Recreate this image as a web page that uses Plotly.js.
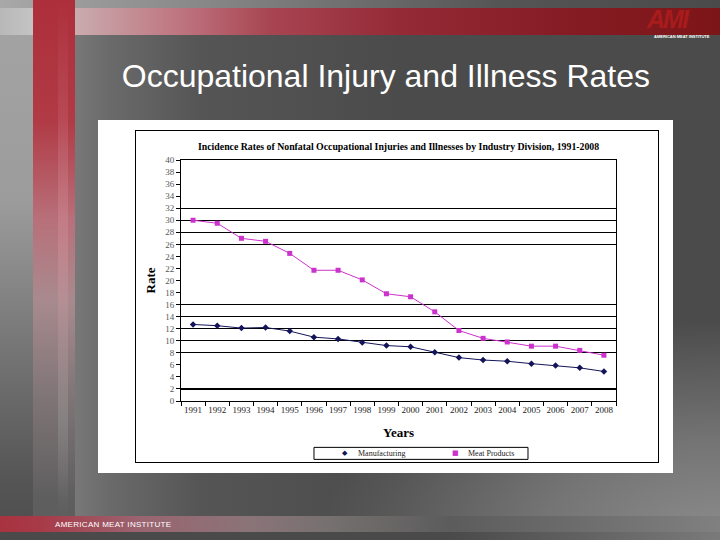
<!DOCTYPE html>
<html>
<head>
<meta charset="utf-8">
<script src="https://cdn.plot.ly/plotly-3.0.1.min.js"></script>
<style>
  html, body { margin:0; padding:0; width:720px; height:540px; overflow:hidden; }
  #slide { position:relative; width:720px; height:540px; overflow:hidden;
    background: linear-gradient(90deg, #9a9a9a 0px, #8a8a8a 30px, #6a6a6a 110px, #555 200px, #4b4b4b 400px, #4b4b4b 720px); }
  .abs { position:absolute; }
  #leftshade { left:0; top:0; width:33px; height:540px; background: linear-gradient(180deg, #a4a4a4 0px, #9c9c9c 200px, #7a7a7a 330px, #555 480px, #4e4e4e 540px); }
  #topgrad { left:0; top:0; width:720px; height:8px; background: linear-gradient(90deg,#a8a8a8 0px,#888 200px,#555 500px,#4a4a4a 720px); }
  #topband { left:0; top:8px; width:720px; height:27px;
    background: linear-gradient(90deg, #b8b8b8 0px, #c4c4c4 33px, #c9a9ac 80px, #c07a84 170px, #a84552 270px, #942a36 400px, #861c24 560px, #7c1518 720px); }
  #leftbar { left:33px; top:0; width:42px; height:516px;
    background: linear-gradient(180deg, #ad2f3b 0px, #b03a45 120px, #b8707a 220px, #a88a8e 300px, #7e7476 400px, #5e5e5e 500px); }
  #leftbar2 { left:58px; top:0; width:10px; height:516px;
    background: linear-gradient(180deg, rgba(200,80,90,0.0) 0px, rgba(220,150,160,0.35) 250px, rgba(160,160,160,0.35) 420px, rgba(90,90,90,0) 516px); }
  #rightbottom { left:300px; top:300px; width:420px; height:240px;
    background: radial-gradient(ellipse 400px 220px at 100% 100%, #8c8c8c 0%, rgba(130,130,130,0.75) 45%, rgba(75,75,75,0) 100%); }
  #botband { left:0; top:516px; width:720px; height:16px;
    background: linear-gradient(90deg, #a83240 0px, #a83a48 40px, #9a6470 140px, #8a7478 250px, #767070 330px, #5c5c5c 450px, #6a6a6a 560px, #808080 720px); }
  #botstrip { left:0; top:532px; width:720px; height:8px; background: linear-gradient(90deg,#4a4a4a 0px,#4a4a4a 450px,#7a7a7a 720px); }
  #footer { left:55px; top:520px; font-family:"Liberation Sans", Arial, sans-serif; font-size:8px; color:#fff; letter-spacing:0.3px; white-space:nowrap; line-height:9px; }
  #logo { left:647px; top:9px; font-family:"Liberation Sans", Arial, sans-serif; font-weight:bold; font-style:italic; font-size:25px; color:#a81c1c; letter-spacing:-2px; line-height:20px; height:20px; }
  #logosub { left:654px; top:35px; font-family:"Liberation Sans", Arial, sans-serif; font-weight:bold; font-size:4px; color:#fff; white-space:nowrap; line-height:4px; }
  #whitebox { left:98px; top:120px; width:575px; height:353px; background:#fff; }
  #frame { left:135px; top:130px; width:522px; height:331px; border:1px solid #000; }
  #chart { left:0; top:0; width:720px; height:540px; }
</style>
</head>
<body>
<div id="slide">
  <div class="abs" id="leftshade"></div>
  <div class="abs" id="topgrad"></div>
  <div class="abs" id="topband"></div>
  <div class="abs" id="rightbottom"></div>
  <div class="abs" id="leftbar"></div>
  <div class="abs" id="leftbar2"></div>
  <div class="abs" id="botband"></div>
  <div class="abs" id="botstrip"></div>
  <div class="abs" id="footer">AMERICAN MEAT INSTITUTE</div>
  <div class="abs" id="logo">AMI</div>
  <div class="abs" id="logosub">AMERICAN MEAT INSTITUTE</div>
  <div class="abs" id="whitebox"></div>
  <div class="abs" id="frame"></div>
  <div class="abs" id="chart"></div>
</div>
<script>
const years = ["1991","1992","1993","1994","1995","1996","1997","1998","1999","2000","2001","2002","2003","2004","2005","2006","2007","2008"];
const manufacturing = [12.7,12.5,12.1,12.2,11.6,10.6,10.3,9.7,9.2,9.0,8.1,7.2,6.8,6.6,6.2,5.9,5.5,4.9];
const meatProducts = [30.0,29.5,27.0,26.5,24.5,21.7,21.7,20.1,17.8,17.3,14.8,11.7,10.4,9.8,9.1,9.1,8.4,7.6];
const seriesNames = ["Manufacturing", "Meat Products"];
const yTicks = [0,2,4,6,8,10,12,14,16,18,20,22,24,26,28,30,32,34,36,38,40];
const gridValues = [2,8,10,12,14,16,26,28,30,32];

const serif = "Liberation Serif, Times New Roman, serif";
const navy = "#14145a";
const magenta = "#cc33cc";

const traces = [
  { x: years, y: manufacturing, type: "scatter", mode: "lines", yaxis: "y2",
    line: { color: navy, width: 1 }, showlegend: false, hoverinfo: "skip" },
  { x: years, y: meatProducts, type: "scatter", mode: "lines", yaxis: "y2",
    line: { color: magenta, width: 1 }, showlegend: false, hoverinfo: "skip" },
  { x: years, y: manufacturing, type: "scatter", mode: "markers", name: seriesNames[0], showlegend: false,
    marker: { symbol: "diamond", size: 5, color: navy } },
  { x: years, y: meatProducts, type: "scatter", mode: "markers", name: seriesNames[1], showlegend: false,
    marker: { symbol: "square", size: 5, color: magenta } }
];

// legend box (paper coordinates of the plot area)
const lgX0 = 0.3057, lgX1 = 0.7977, lgY0 = -0.2422, lgY1 = -0.1924;
const lgYm = (lgY0 + lgY1) / 2;

const layout = {
  width: 720, height: 540,
  paper_bgcolor: "rgba(0,0,0,0)",
  plot_bgcolor: "rgba(0,0,0,0)",
  margin: { l: 181, r: 104, t: 160, b: 139, pad: 0 },
  title: { text: "Occupational Injury and Illness Rates",
    font: { family: "Liberation Sans, Arial, sans-serif", size: 32, color: "#ffffff" },
    x: 0.471, xanchor: "center", xref: "paper", y: 0.859, yanchor: "middle", yref: "container" },
  xaxis: {
    type: "category", categoryorder: "array", categoryarray: years,
    range: [-0.5, 17.5], tickson: "boundaries", tickangle: 0,
    ticks: "outside", ticklen: 4, tickcolor: "#000", tickwidth: 1,
    showline: true, linecolor: "#000", linewidth: 1, mirror: true,
    showgrid: false, zeroline: false,
    tickfont: { family: serif, size: 9, color: "#222" },
    title: { text: "<b>Years</b>", font: { family: serif, size: 13, color: "#000" }, standoff: 14 },
    automargin: false
  },
  yaxis: {
    range: [0, 40], tickvals: yTicks, ticktext: yTicks.map(String),
    ticks: "outside", ticklen: 4, tickcolor: "#000", tickwidth: 1,
    showline: true, linecolor: "#000", linewidth: 1, mirror: true,
    showgrid: false, zeroline: false,
    tickfont: { family: serif, size: 9, color: "#555" },
    title: { text: "<b>Rate</b>", font: { family: serif, size: 13, color: "#000" }, standoff: 6 },
    automargin: false, fixedrange: true
  },
  yaxis2: {
    overlaying: "y", range: [0, 40], tickvals: gridValues,
    showticklabels: false, ticks: "", showgrid: true, gridcolor: "#000", gridwidth: 1.2,
    zeroline: false, showline: false, fixedrange: true
  },
  showlegend: false,
  shapes: [
    { type: "rect", xref: "paper", yref: "paper", x0: lgX0, x1: lgX1, y0: lgY0, y1: lgY1,
      line: { color: "#000", width: 1 }, fillcolor: "#fff", layer: "above" }
  ],
  annotations: [
    { text: "<b>Incidence Rates of Nonfatal Occupational Injuries and Illnesses by Industry Division, 1991-2008</b>",
      xref: "paper", yref: "paper", x: 0.499, y: 1.055, xanchor: "center", yanchor: "middle",
      showarrow: false, font: { family: serif, size: 9.8, color: "#000" } },
    { text: "◆", xref: "paper", yref: "paper", x: 0.377, y: lgYm, xanchor: "center", yanchor: "middle",
      showarrow: false, font: { family: "DejaVu Sans, sans-serif", size: 7, color: navy } },
    { text: seriesNames[0], xref: "paper", yref: "paper", x: 0.403, y: lgYm, xanchor: "left", yanchor: "middle",
      showarrow: false, font: { family: serif, size: 8, color: "#222" } },
    { text: "■", xref: "paper", yref: "paper", x: 0.630, y: lgYm, xanchor: "center", yanchor: "middle",
      showarrow: false, font: { family: "DejaVu Sans, sans-serif", size: 7, color: magenta } },
    { text: seriesNames[1], xref: "paper", yref: "paper", x: 0.655, y: lgYm, xanchor: "left", yanchor: "middle",
      showarrow: false, font: { family: serif, size: 8, color: "#222" } }
  ]
};

Plotly.newPlot("chart", traces, layout, { staticPlot: true, displayModeBar: false });
</script>
</body>
</html>
